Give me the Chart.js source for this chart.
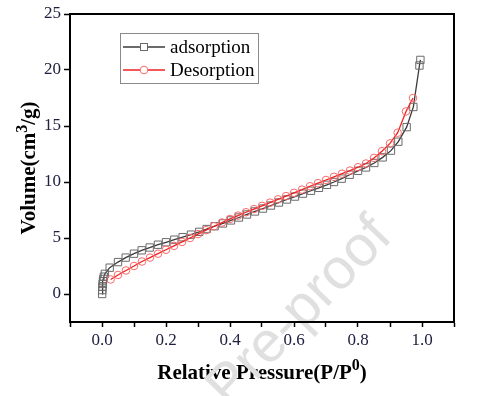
<!DOCTYPE html>
<html>
<head>
<meta charset="utf-8">
<script src="https://cdn.jsdelivr.net/npm/chart.js@4/dist/chart.umd.min.js"></script>
<style>
html,body{margin:0;padding:0;background:#fff;}
#wrap{width:483px;height:396px;}
</style>
</head>
<body>
<div id="wrap"><canvas id="c" width="483" height="396"></canvas></div>
<script>
// ---- data ----
const adsP = [0.0005,0.001,0.0015,0.002,0.003,0.004,0.006,0.009,0.024,0.05,0.074,0.1,0.124,0.149,0.175,0.2,0.226,0.252,0.278,0.304,0.327,0.352,0.378,0.403,0.428,0.453,0.478,0.503,0.528,0.553,0.578,0.603,0.628,0.653,0.678,0.703,0.725,0.749,0.774,0.8,0.825,0.851,0.877,0.903,0.926,0.952,0.973,0.992,0.995];
const adsV = [0.0,0.35,0.65,0.9,1.15,1.35,1.55,1.8,2.35,2.85,3.25,3.6,3.9,4.15,4.4,4.62,4.85,5.07,5.3,5.55,5.8,6.05,6.3,6.57,6.83,7.1,7.37,7.63,7.9,8.17,8.44,8.7,8.96,9.22,9.48,9.75,10.0,10.3,10.65,11.0,11.3,11.7,12.2,12.8,13.6,14.9,16.7,20.4,20.9];
const desP = [0.027,0.05,0.075,0.1,0.125,0.15,0.175,0.2,0.225,0.25,0.275,0.3,0.325,0.35,0.375,0.4,0.425,0.45,0.475,0.5,0.525,0.55,0.575,0.6,0.625,0.65,0.675,0.7,0.725,0.75,0.775,0.8,0.825,0.85,0.875,0.9,0.924,0.95,0.972];
const desV = [1.3,1.7,2.1,2.5,2.9,3.25,3.6,3.95,4.3,4.65,5.0,5.35,5.7,6.05,6.38,6.7,7.0,7.3,7.58,7.87,8.16,8.45,8.74,9.03,9.32,9.62,9.9,10.18,10.46,10.74,11.02,11.32,11.65,12.15,12.75,13.45,14.4,16.3,17.5];
const seriesNames = ['adsorption','Desorption'];
const xTicks = [-0.1,0.0,0.1,0.2,0.3,0.4,0.5,0.6,0.7,0.8,0.9,1.0,1.1];
const xLabeled = [0.0,0.2,0.4,0.6,0.8,1.0];
const yTicks = [0,5,10,15,20,25];
const xTitle = ['Relative Pressure(P/P','0',')'];
const yTitle = ['Volume(cm','3','/g)'];
const watermark = 'Pre-proof';

const toXY = (xs, ys) => xs.map((x,i)=>({x:x,y:ys[i]}));

const SERIF = '"Liberation Serif","Times New Roman",serif';
const TICKCOL = '#202040';

// draw text with a superscript middle part, centred on (0,0) of current transform
function drawSupText(ctx, parts, size, supSize, rise){
  const big = 'bold ' + size + 'px ' + SERIF;
  const small = 'bold ' + supSize + 'px ' + SERIF;
  ctx.font = big; const w0 = ctx.measureText(parts[0]).width;
  const w2 = ctx.measureText(parts[2]).width;
  ctx.font = small; const w1 = ctx.measureText(parts[1]).width;
  const total = w0 + w1 + w2;
  let x = -total/2;
  ctx.textAlign = 'left'; ctx.textBaseline = 'middle'; ctx.fillStyle = '#000';
  ctx.font = big; ctx.fillText(parts[0], x, 0); x += w0;
  ctx.font = small; ctx.fillText(parts[1], x, -rise); x += w1;
  ctx.font = big; ctx.fillText(parts[2], x, 0);
}

const decorPlugin = {
  id:'decor',
  afterDraw(chart){
    const {ctx, chartArea:a} = chart;
    ctx.save();
    // axis titles
    ctx.save();
    ctx.translate((a.left+a.right)/2, 374);
    drawSupText(ctx, xTitle, 21, 16, 8);
    ctx.restore();
    ctx.save();
    ctx.translate(30, (a.top+a.bottom)/2);
    ctx.rotate(-Math.PI/2);
    drawSupText(ctx, yTitle, 21, 16, 7);
    ctx.restore();
    // watermark
    ctx.save();
    ctx.translate(229, 409);
    ctx.rotate(-46*Math.PI/180);
    ctx.font = '57px "Liberation Sans", Arial, sans-serif';
    ctx.fillStyle = '#e0e0e0';
    ctx.textAlign = 'left';
    ctx.textBaseline = 'alphabetic';
    ctx.fillText(watermark, 0, 0);
    ctx.restore();
    // frame
    ctx.strokeStyle = '#000';
    ctx.lineWidth = 2;
    ctx.strokeRect(a.left, a.top, a.right-a.left, a.bottom-a.top);
    // legend
    const bx = 120, by = 33, bw = 138, bh = 50;
    ctx.fillStyle = '#fff';
    ctx.fillRect(bx,by,bw,bh);
    ctx.lineWidth = 1;
    ctx.strokeStyle = '#8a8a8a';
    ctx.strokeRect(bx+0.5,by+0.5,bw,bh);
    const rows = [47, 70];
    chart.data.datasets.forEach((ds,i)=>{
      const y = rows[i];
      ctx.strokeStyle = ds.borderColor;
      ctx.lineWidth = 1.3;
      ctx.beginPath(); ctx.moveTo(123,y); ctx.lineTo(165,y); ctx.stroke();
      ctx.strokeStyle = ds.pointBorderColor;
      ctx.fillStyle = '#fff';
      ctx.lineWidth = 1;
      if (ds.pointStyle === 'rect') {
        ctx.fillRect(140.5,y-3.5,7,7);
        ctx.strokeRect(140.5,y-3.5,7,7);
      } else {
        ctx.beginPath(); ctx.arc(144,y,3.8,0,Math.PI*2); ctx.fill(); ctx.stroke();
      }
      ctx.fillStyle = '#000';
      ctx.font = '19px ' + SERIF;
      ctx.textBaseline = 'middle';
      ctx.textAlign = 'left';
      ctx.fillText(ds.label, 170, y+1);
    });
    ctx.restore();
  }
};

new Chart(document.getElementById('c'), {
  type:'line',
  data:{
    datasets:[
      {label:seriesNames[0], data:toXY(adsP,adsV), borderColor:'#3a3a3a', borderWidth:1.3,
       pointStyle:'rect', pointRadius:5.2, pointBorderColor:'#6a6a6a', pointBackgroundColor:'rgba(255,255,255,0)',
       pointBorderWidth:1, tension:0, order:2},
      {label:seriesNames[1], data:toXY(desP,desV), borderColor:'#f02020', borderWidth:1.3,
       pointStyle:'circle', pointRadius:3.8, pointBorderColor:'#f86a6a', pointBackgroundColor:'rgba(255,255,255,0)',
       pointBorderWidth:1, tension:0, order:1}
    ]
  },
  options:{
    responsive:false, animation:false,
    layout:{padding:{left:0,right:29,top:14,bottom:0}},
    plugins:{legend:{display:false}, tooltip:{enabled:false}},
    scales:{
      x:{type:'linear', min:-0.1, max:1.1,
        afterBuildTicks(s){ s.ticks = xTicks.map(v=>({value:v})); },
        afterFit(s){ s.height = 74; },
        grid:{drawOnChartArea:false, drawTicks:true, tickLength:5, color:'#000', tickWidth:1.5},
        border:{display:true, color:'#000', width:2},
        ticks:{color:TICKCOL, font:{family:SERIF, size:17}, padding:3, maxRotation:0, autoSkip:false,
          callback(v){ return xLabeled.some(t=>Math.abs(t-v)<1e-6) ? v.toFixed(1) : ''; }},
        title:{display:false}
      },
      y:{type:'linear', min:-2.5, max:25,
        afterBuildTicks(s){ s.ticks = yTicks.map(v=>({value:v})); },
        afterFit(s){ s.width = 70; },
        grid:{drawOnChartArea:false, drawTicks:true, tickLength:6, color:'#000', tickWidth:1.5},
        border:{display:true, color:'#000', width:2},
        ticks:{color:TICKCOL, font:{family:SERIF, size:17}, padding:3,
          callback(v){ return String(v); }},
        title:{display:false}
      }
    }
  },
  plugins:[decorPlugin]
});
</script>
</body>
</html>
